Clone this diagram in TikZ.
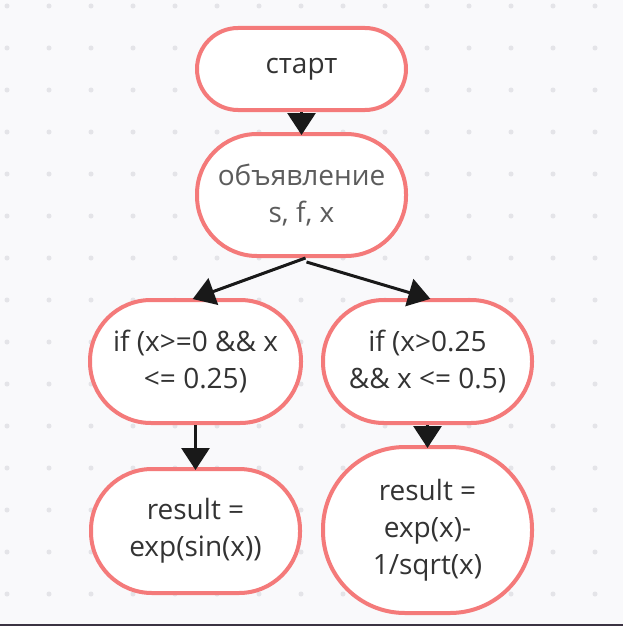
\documentclass[tikz,border=0pt]{standalone}
\usepackage{fontspec}
\setmainfont{Open Sans}
\usepackage{tikz}
\usetikzlibrary{arrows.meta,positioning}
\tikzset{>/.tip={Triangle[width=28pt,length=22pt]}}
\definecolor{bg}{HTML}{F9F9FB}
\definecolor{dot}{HTML}{E4E4E8}
\definecolor{edge}{HTML}{F47A7A}
\definecolor{ink}{HTML}{333333}
\definecolor{bar}{HTML}{3B3342}
\begin{document}
\begin{tikzpicture}[x=1pt,y=-1pt,
    box/.style={draw=edge,line width=4pt,fill=white,text=ink,align=center,
      inner sep=0pt,minimum width=209pt,font=\fontsize{28}{37}\selectfont},
    flow/.style={->,line width=3pt,color=black!90,shorten >=-3pt}]
      \useasboundingbox (0,0) rectangle (623,626);
      \fill[bg] (0,0) rectangle (623,626);
      \foreach \i in {0,...,14}
        \foreach \j in {0,...,14}
          \fill[dot] ({7+42*\i},{6+42*\j}) circle (2.5pt);
      \fill[bar] (0,623.5) rectangle (623,626);

      \node[box,minimum height=82pt,rounded corners=41pt](S) at (301.5,69){старт};
      \node[box,minimum height=122pt,rounded corners=60pt,text=ink!80,below=20pt of S](Dcl){объявление\\s, f, x};
      \node[box,minimum width=211pt,minimum height=123pt,rounded corners=61pt,below=40pt of Dcl,xshift=-106pt](If1){if (x>=0 \&\& x\\<= 0.25)};
      \node[box,minimum height=123pt,rounded corners=61pt,below=40pt of Dcl,xshift=126pt](If2){if (x>0.25\\\&\& x <= 0.5)};
      \node[box,minimum height=124pt,rounded corners=61pt,below=42pt of If1](R1){result =\\exp(sin(x))};
      \node[box,minimum height=166pt,rounded corners=82pt,below=20pt of If2](R2){result =\\exp(x)-\\1/sqrt(x)};

      \draw[flow] (S) -- (Dcl);
      \draw[flow] ([xshift=4pt]Dcl.south) -- (If1.north);
      \draw[flow] ([xshift=5pt,yshift=-4pt]Dcl.south) -- (If2.north);
      \draw[flow] (If1) -- (R1);
      \draw[flow] (If2) -- (R2);
    \end{tikzpicture}
\end{document}
